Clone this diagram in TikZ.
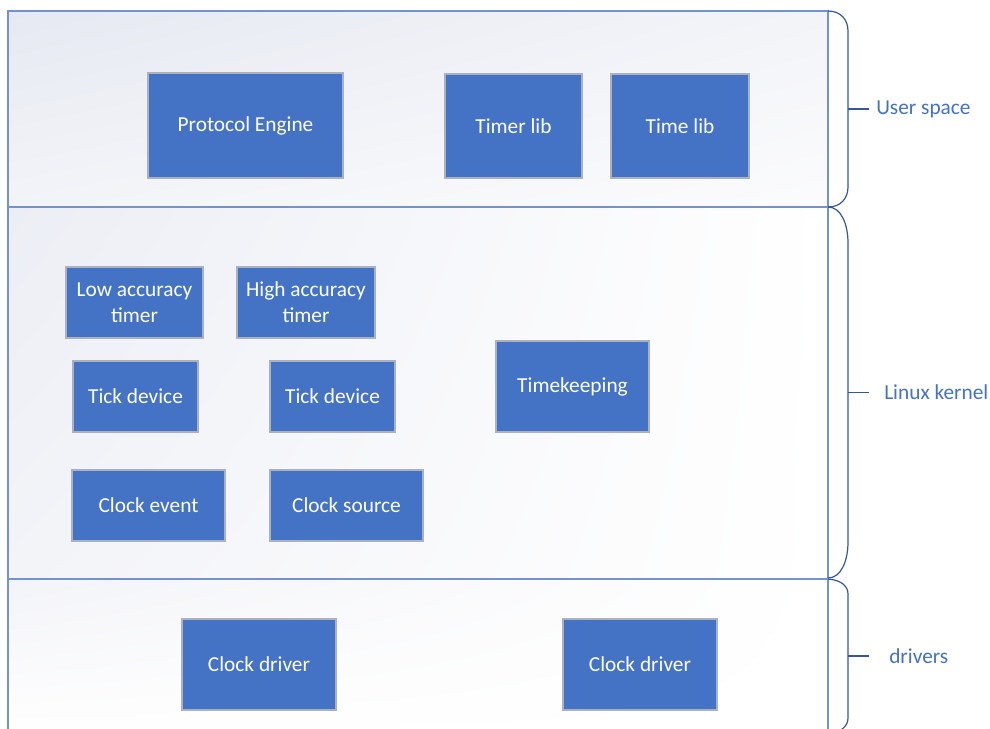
\documentclass[tikz,border=0pt]{standalone}
\usepackage{fontspec}
\setmainfont{Carlito}
\usepackage{tikz}
\usetikzlibrary{shadings}
\definecolor{BLUE}{HTML}{4472C4}
\definecolor{EDGE}{HTML}{A9B1C2}
\definecolor{BAND}{HTML}{7393CE}
\definecolor{BRACE}{HTML}{34589B}
\definecolor{LBL}{HTML}{4472C4}
\definecolor{SHA}{HTML}{E6E9F2}
\definecolor{SHB}{HTML}{ECEEF5}
\definecolor{SHC}{HTML}{F3F4F8}

\begin{document}
\begin{tikzpicture}[x=0.75pt,y=-0.75pt]
\tikzset{blk/.style 2 args={draw=EDGE,line width=0.8pt,fill=BLUE,text=white,align=center,inner sep=0pt,
  minimum width=#1*0.75pt,minimum height=#2*0.75pt,font=\fontsize{16}{19.5}\selectfont},
 bandl/.style={BAND,line width=1.2pt},brc/.style={BRACE,line width=0.9pt},
 lbl/.style={anchor=west,inner sep=0pt,text=LBL,font=\fontsize{16}{19.5}\selectfont}}
\clip (0,0) rectangle (990,729);
\fill[white] (0,0) rectangle (990,729);
% bands
\shade[upper left=SHA,upper right=SHC,lower left=SHC,lower right=white!70!SHC] (8,11) rectangle (828,207);
\shade[upper left=SHB,upper right=white,lower left=SHC,lower right=white] (8,207) rectangle (828,579);
\shade[upper left=SHC,upper right=white,lower left=white,lower right=white] (8,579) rectangle (828,740);
\draw[bandl] (8,11) rectangle (828,207);
\draw[bandl] (8,207) rectangle (828,579);
\draw[bandl] (8,740) -- (8,579) -- (828,579) -- (828,740);
% braces
\draw[brc] (828,11) .. controls (841,11) and (848,20) .. (848,31) -- (848,187) .. controls (848,198) and (841,207) .. (828,207);
\draw[brc] (828,207) .. controls (841,207) and (848,224) .. (848,243) -- (848,542) .. controls (848,561) and (841,578) .. (828,578);
\draw[brc] (828,579) .. controls (841,580) and (848,586) .. (848,594) -- (848,718) .. controls (848,726) and (841,733) .. (828,733);
\draw[brc] (848,109) -- (869,109);
\draw[brc] (848,392.5) -- (869,392.5);
\draw[brc] (848,656) -- (869,656);
\node[lbl] (lblus) at (876,109) {User space};
\node[lbl] (lblkern) at (884,392.5) {Linux kernel};
\node[lbl] (lbldrv) at (889,656) {drivers};
% user space
\node[blk={195}{105}] (proto) at (245.5,125.5) {Protocol Engine};
\node[blk={137}{104}] (timerlib) at (513.5,126) {Timer lib};
\node[blk={138}{104}] (timelib) at (680,126) {Time lib};
% kernel
\node[blk={137}{71}] (lowacc) at (134.5,302.5) {Low accuracy\\timer};
\node[blk={138}{71}] (highacc) at (306,302.5) {High accuracy\\timer};
\node[blk={125}{71}] (tickone) at (135.5,396.5) {Tick device};
\node[blk={125}{71}] (ticktwo) at (332.5,396.5) {Tick device};
\node[blk={153}{91}] (tkeep) at (572.5,386.5) {Timekeeping};
\node[blk={153}{71}] (clkevt) at (148.5,505.5) {Clock event};
\node[blk={153}{71}] (clksrc) at (346.5,505.5) {Clock source};
% drivers
\node[blk={154}{91}] (drvone) at (259,664.5) {Clock driver};
\node[blk={154}{91}] (drvtwo) at (640,664.5) {Clock driver};
\end{tikzpicture}
\end{document}
